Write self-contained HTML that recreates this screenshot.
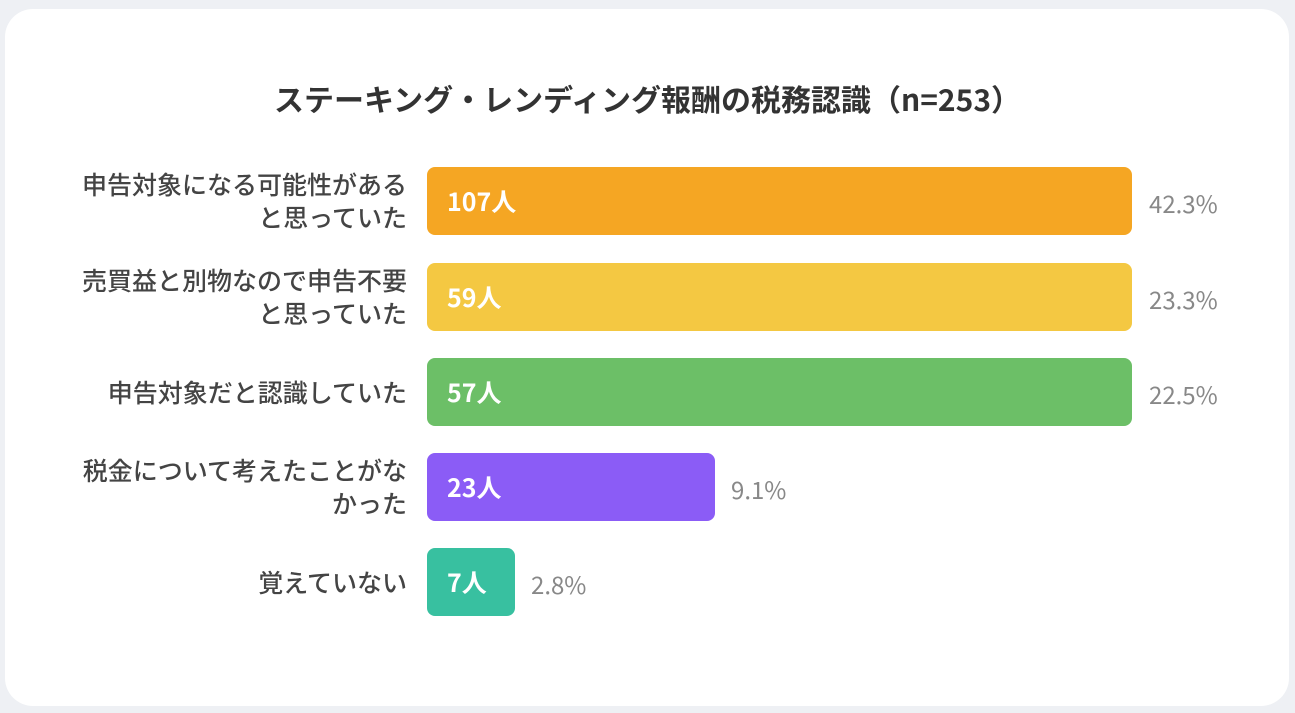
<!DOCTYPE html>
<html><head><meta charset="utf-8"><style>
body{margin:0;width:1295px;height:713px;background:#eef0f4;font-family:"Noto Sans CJK JP","Liberation Sans",sans-serif;overflow:hidden}
.card{position:absolute;left:5px;top:9px;width:1284px;height:697px;background:#fff;border-radius:28px}
.t{position:absolute;left:0;width:1295px;top:77px;text-align:center;font-size:30px;font-weight:bold;color:#333;line-height:42px}
.l{position:absolute;right:888px;text-align:right;font-size:25px;font-weight:500;color:#444;line-height:33px;white-space:nowrap}
.b{position:absolute;left:427px;height:68px;border-radius:8px;color:#fff;font-weight:bold;font-size:25px;line-height:68px;box-sizing:border-box;padding-left:20px}
.p{position:absolute;font-size:24px;color:#888;line-height:68px}
</style></head><body>
<div class="card"></div>
<div class="t">ステーキング・レンディング報酬の税務認識（n=253）</div>
<div class="l" style="top:168px">申告対象になる可能性がある<br>と思っていた</div>
<div class="b" style="top:167px;width:705px;background:#f5a623">107人</div>
<div class="p" style="top:169px;left:1149px">42.3%</div>
<div class="l" style="top:264px">売買益と別物なので申告不要<br>と思っていた</div>
<div class="b" style="top:263px;width:705px;background:#f4c842">59人</div>
<div class="p" style="top:265px;left:1149px">23.3%</div>
<div class="l" style="top:376px">申告対象だと認識していた</div>
<div class="b" style="top:358px;width:705px;background:#6cbf67">57人</div>
<div class="p" style="top:360px;left:1149px">22.5%</div>
<div class="l" style="top:454px">税金について考えたことがな<br>かった</div>
<div class="b" style="top:453px;width:288px;background:#8b5cf6">23人</div>
<div class="p" style="top:455px;left:731px">9.1%</div>
<div class="l" style="top:566px">覚えていない</div>
<div class="b" style="top:548px;width:88px;background:#38c0a0">7人</div>
<div class="p" style="top:550px;left:531px">2.8%</div>
</body></html>
